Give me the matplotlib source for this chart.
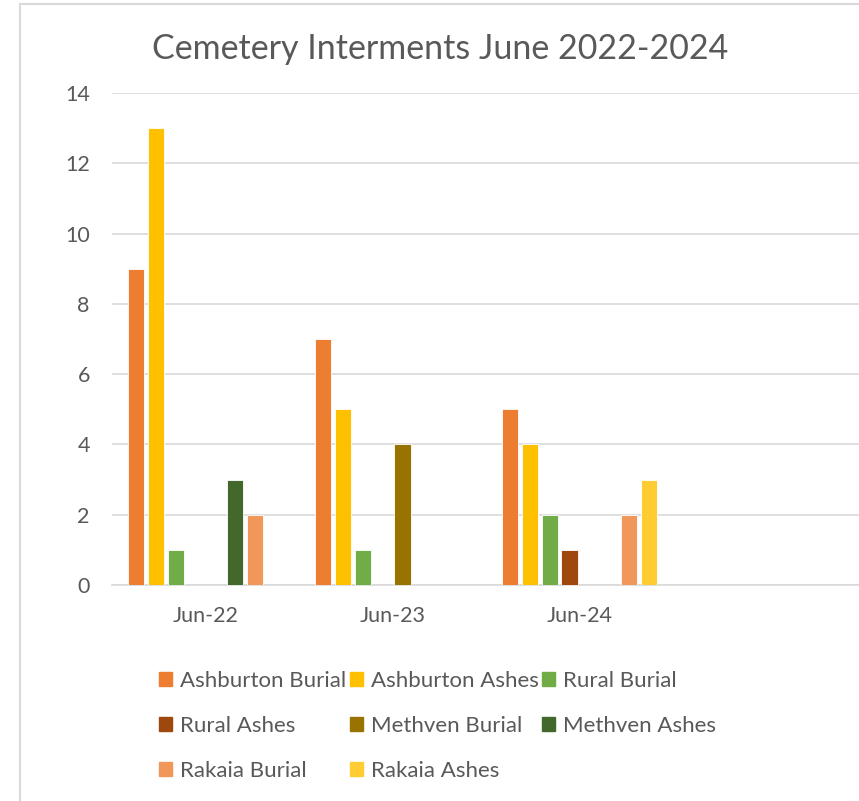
import matplotlib
matplotlib.use("Agg")
import matplotlib.pyplot as plt
import numpy as np
from matplotlib.lines import Line2D
from matplotlib.patches import Patch

categories = ["Jun-22", "Jun-23", "Jun-24", ""]
series_names = ["Ashburton Burial", "Ashburton Ashes", "Rural Burial", "Rural Ashes",
                "Methven Burial", "Methven Ashes", "Rakaia Burial", "Rakaia Ashes"]
ashburton_burial = [9, 7, 5, 0]
ashburton_ashes = [13, 5, 4, 0]
rural_burial = [1, 1, 2, 0]
rural_ashes = [0, 0, 1, 0]
methven_burial = [0, 4, 0, 0]
methven_ashes = [3, 0, 0, 0]
rakaia_burial = [2, 0, 2, 0]
rakaia_ashes = [0, 0, 3, 0]
values = [ashburton_burial, ashburton_ashes, rural_burial, rural_ashes,
          methven_burial, methven_ashes, rakaia_burial, rakaia_ashes]
colors = ["#ED7D31", "#FFC000", "#70AD47", "#9E480E",
          "#997300", "#43682B", "#F1975A", "#FFCD33"]
yticks = [0, 2, 4, 6, 8, 10, 12, 14]

plt.rcParams['font.family'] = ['Lato', 'DejaVu Sans']
txt = "#595959"
grid = "#D9D9D9"

W, H = 859, 801
fig = plt.figure(figsize=(W/100, H/100), dpi=100)
ax = fig.add_axes([112/W, 1-585/H, (860-112)/W, (585-93)/H])

x = np.arange(len(categories))
pitch = 0.106
width = 0.088
n = len(values)
handles = []
for i, (vals, c, name) in enumerate(zip(values, colors, series_names)):
    off = (i - (n-1)/2) * pitch
    ax.bar(x + off, vals, width=width, color=c, edgecolor="white", linewidth=0.6, zorder=3)
    handles.append(Patch(facecolor=c, edgecolor=c, label=name))

ax.set_xlim(-0.5, 3.5)
ax.set_ylim(0, 14)
ax.set_yticks(yticks)
ax.set_yticklabels([str(t) for t in yticks], color=txt, fontsize=15.5)
ax.set_xticks(x)
ax.set_xticklabels(categories, color=txt, fontsize=15.5)
ax.tick_params(axis='both', length=0)
ax.tick_params(axis='y', pad=16)
ax.tick_params(axis='x', pad=15)
ax.yaxis.grid(True, color=grid, linewidth=1.2, zorder=0)
for s in ["top", "right", "left"]:
    ax.spines[s].set_visible(False)
ax.spines["bottom"].set_color(grid)
ax.spines["bottom"].set_linewidth(1.2)
ax.set_axisbelow(True)

fig.text(440/W, 1-49/H, "Cemetery Interments June 2022-2024", ha="center", va="center",
         fontsize=24.5, color=txt)

# legend reordered for row-wise filling
order = [0, 3, 6, 1, 4, 7, 2, 5]
leg = fig.legend([handles[k] for k in order], [series_names[k] for k in order],
                 ncol=3, loc="upper left", bbox_to_anchor=(159/W, 1-671/H),
                 frameon=False, fontsize=16, labelcolor=txt,
                 handlelength=0.6, handleheight=0.6, handletextpad=0.35,
                 columnspacing=0.15, labelspacing=1.13, borderaxespad=0, borderpad=0)

# chart border
fig.add_artist(Line2D([20/W, 20/W], [0, 1-4/H], color=grid, linewidth=1.5))
fig.add_artist(Line2D([20/W, 1], [1-4/H, 1-4/H], color=grid, linewidth=1.5))

fig.savefig("out.png", dpi=100)
